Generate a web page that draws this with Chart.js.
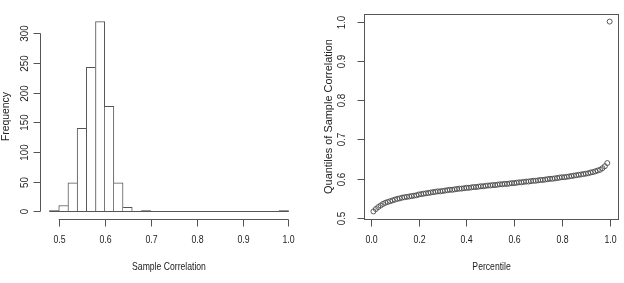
<!DOCTYPE html>
<html><head><meta charset="utf-8">
<script src="https://cdn.jsdelivr.net/npm/chart.js@4"></script>
<style>
html,body{margin:0;padding:0;background:#fff;}
#wrap{position:relative;width:624px;height:283px;overflow:hidden;background:#fff;}
.pane{position:absolute;top:0;width:312px;height:283px;}
</style></head><body>
<div id="wrap">
<div class="pane" style="left:0"><canvas id="hist" width="312" height="283"></canvas></div>
<div class="pane" style="left:312px"><canvas id="qq" width="312" height="283"></canvas></div>
</div>
<script>
// ---- Histogram data ----
const histBinCenters = [0.49,0.51,0.53,0.55,0.57,0.59,0.61,0.63,0.65,0.67,0.69,0.71,0.73,0.75,0.77,0.79,0.81,0.83,0.85,0.87,0.89,0.91,0.93,0.95,0.97,0.99];
const histCounts = [1,10,48,140,243,320,177,48,7,0,1,0,0,0,0,0,0,0,0,0,0,0,0,0,0,1];
const histXTicks = [0.5,0.6,0.7,0.8,0.9,1.0];
const histXTickLabels = ["0.5","0.6","0.7","0.8","0.9","1.0"];
const histYTicks = [0,50,100,150,200,250,300];
const histYTickLabels = ["0","50","100","150","200","250","300"];
const histXTitle = "Sample Correlation";
const histYTitle = "Frequency";

// ---- Quantile plot data ----
const percentiles = [0.01,0.02,0.03,0.04,0.05,0.06,0.07,0.08,0.09,0.10,
0.11,0.12,0.13,0.14,0.15,0.16,0.17,0.18,0.19,0.20,
0.21,0.22,0.23,0.24,0.25,0.26,0.27,0.28,0.29,0.30,
0.31,0.32,0.33,0.34,0.35,0.36,0.37,0.38,0.39,0.40,
0.41,0.42,0.43,0.44,0.45,0.46,0.47,0.48,0.49,0.50,
0.51,0.52,0.53,0.54,0.55,0.56,0.57,0.58,0.59,0.60,
0.61,0.62,0.63,0.64,0.65,0.66,0.67,0.68,0.69,0.70,
0.71,0.72,0.73,0.74,0.75,0.76,0.77,0.78,0.79,0.80,
0.81,0.82,0.83,0.84,0.85,0.86,0.87,0.88,0.89,0.90,
0.91,0.92,0.93,0.94,0.95,0.96,0.97,0.98,0.99,1.00];
const quantiles = [0.517,0.523,0.528,0.532,0.536,0.539,0.541,0.543,0.545,0.547,
0.549,0.550,0.552,0.553,0.554,0.555,0.556,0.557,0.558,0.560,
0.561,0.562,0.563,0.564,0.565,0.566,0.567,0.568,0.568,0.569,
0.570,0.571,0.572,0.572,0.573,0.574,0.575,0.575,0.576,0.577,
0.577,0.578,0.579,0.579,0.580,0.581,0.581,0.582,0.583,0.583,
0.584,0.584,0.585,0.586,0.586,0.587,0.587,0.588,0.589,0.589,
0.590,0.591,0.591,0.592,0.593,0.593,0.594,0.595,0.595,0.596,
0.597,0.597,0.598,0.599,0.600,0.600,0.601,0.602,0.603,0.604,
0.604,0.605,0.606,0.607,0.608,0.609,0.610,0.611,0.612,0.613,
0.614,0.616,0.617,0.619,0.621,0.623,0.627,0.632,0.640,1.000];
const qqXTicks = [0,0.2,0.4,0.6,0.8,1.0];
const qqXTickLabels = ["0.0","0.2","0.4","0.6","0.8","1.0"];
const qqYTicks = [0.5,0.6,0.7,0.8,0.9,1.0];
const qqYTickLabels = ["0.5","0.6","0.7","0.8","0.9","1.0"];
const qqXTitle = "Percentile";
const qqYTitle = "Quantiles of Sample Correlation";

// ---- styling ----
const AXIS = '#555555';
const TEXT = '#222222';
const FONT = '"Liberation Sans", Arial, Helvetica, sans-serif';

function txt(ctx, s, x, y, rot, size, sx) {
  ctx.save();
  ctx.translate(x, y);
  ctx.rotate(rot);
  ctx.scale(sx, 1);
  ctx.font = size + 'px ' + FONT;
  ctx.fillStyle = TEXT;
  ctx.textAlign = 'center';
  ctx.textBaseline = 'middle';
  ctx.fillText(s, 0, 0);
  ctx.restore();
}
function seg(ctx, x1, y1, x2, y2) {
  ctx.beginPath(); ctx.moveTo(x1, y1); ctx.lineTo(x2, y2); ctx.stroke();
}

// R-like range padding (4%)
function rng(min, max) { const d = (max - min) * 0.04; return [min - d, max + d]; }

// ---- Histogram ----
const halfW = (histBinCenters[1] - histBinCenters[0]) / 2;
const histLo = histBinCenters[0] - halfW;
const histHi = histBinCenters[histBinCenters.length - 1] + halfW;
const hx = rng(histLo, histHi);
const hy = rng(0, Math.max(...histCounts));

const histAxes = {
  id: 'histAxes',
  afterDraw(chart) {
    const ctx = chart.ctx, xs = chart.scales.x, ys = chart.scales.y, a = chart.chartArea;
    ctx.save();
    ctx.strokeStyle = AXIS; ctx.lineWidth = 1;
    const y0 = Math.round(ys.getPixelForValue(0)) + 0.5;
    seg(ctx, xs.getPixelForValue(histLo), y0, xs.getPixelForValue(histHi), y0);
    const xl = Math.round(a.left) + 0.5;
    seg(ctx, xl, ys.getPixelForValue(histYTicks[0]), xl, ys.getPixelForValue(histYTicks[histYTicks.length - 1]));
    histYTicks.forEach((v, i) => {
      const py = Math.round(ys.getPixelForValue(v)) + 0.5;
      seg(ctx, xl - 7, py, xl, py);
      txt(ctx, histYTickLabels[i], 25, py, -Math.PI / 2, 11.5, 0.86);
    });
    const yb = Math.round(a.bottom) + 0.5;
    seg(ctx, xs.getPixelForValue(histXTicks[0]), yb, xs.getPixelForValue(histXTicks[histXTicks.length - 1]), yb);
    histXTicks.forEach((v, i) => {
      const px = Math.round(xs.getPixelForValue(v)) + 0.5;
      seg(ctx, px, yb, px, yb + 7);
      txt(ctx, histXTickLabels[i], px, 240, 0, 11.5, 0.76);
    });
    txt(ctx, histXTitle, (a.left + a.right) / 2, 267, 0, 11.5, 0.75);
    txt(ctx, histYTitle, 5.5, (a.top + a.bottom) / 2, -Math.PI / 2, 11.5, 0.9);
    ctx.restore();
  }
};

new Chart(document.getElementById('hist'), {
  type: 'bar',
  data: {
    datasets: [{
      data: histBinCenters.map((c, i) => ({ x: c, y: histCounts[i] })),
      backgroundColor: c => histCounts[c.dataIndex] <= 1 ? '#333333' : '#ffffff',
      borderColor: AXIS,
      borderSkipped: false,
      borderWidth: c => {
        const i = c.dataIndex, v = histCounts[i];
        const p = i > 0 ? histCounts[i - 1] : -1;
        const n = i < histCounts.length - 1 ? histCounts[i + 1] : -1;
        if (v <= 1) return 0;
        return { top: 1, bottom: 0, left: p <= v ? 1 : 0, right: n < v ? 1 : 0 };
      },
      barPercentage: 1,
      categoryPercentage: 1
    }]
  },
  options: {
    responsive: false, animation: false, devicePixelRatio: 1,
    layout: { padding: { left: 40, right: 14, top: 14, bottom: 64 } },
    plugins: { legend: { display: false }, tooltip: { enabled: false } },
    scales: {
      x: { type: 'linear', min: hx[0], max: hx[1], display: false, offset: false },
      y: { type: 'linear', min: hy[0], max: hy[1], display: false }
    }
  },
  plugins: [histAxes]
});

// ---- Quantile plot ----
const qx = rng(Math.min(...percentiles), Math.max(...percentiles));
const qy = rng(Math.min(...quantiles), Math.max(...quantiles));

const qqAxes = {
  id: 'qqAxes',
  afterDraw(chart) {
    const ctx = chart.ctx, xs = chart.scales.x, ys = chart.scales.y, a = chart.chartArea;
    ctx.save();
    ctx.strokeStyle = AXIS; ctx.lineWidth = 1;
    const l = Math.round(a.left) + 0.5, r = Math.round(a.right) - 0.5;
    const t = Math.round(a.top) + 0.5, b = Math.round(a.bottom) + 0.5;
    ctx.strokeRect(l, t, r - l, b - t);
    qqYTicks.forEach((v, i) => {
      const py = Math.round(ys.getPixelForValue(v)) + 0.5;
      seg(ctx, l - 7, py, l, py);
      txt(ctx, qqYTickLabels[i], 29.7, py, -Math.PI / 2, 11.5, 0.86);
    });
    qqXTicks.forEach((v, i) => {
      const px = Math.round(xs.getPixelForValue(v)) + 0.5;
      seg(ctx, px, b, px, b + 7);
      txt(ctx, qqXTickLabels[i], px, 240, 0, 11.5, 0.76);
    });
    txt(ctx, qqXTitle, (a.left + a.right) / 2, 267, 0, 11.5, 0.75);
    txt(ctx, qqYTitle, 17, (a.top + a.bottom) / 2, -Math.PI / 2, 11.5, 0.95);
    ctx.restore();
  }
};

new Chart(document.getElementById('qq'), {
  type: 'scatter',
  data: {
    datasets: [{
      data: percentiles.map((p, i) => ({ x: p, y: quantiles[i] })),
      pointStyle: 'circle',
      pointRadius: 2.5,
      pointBorderWidth: 0.9,
      pointBackgroundColor: 'rgba(255,255,255,0)',
      pointBorderColor: '#4a4a4a'
    }]
  },
  options: {
    responsive: false, animation: false, devicePixelRatio: 1,
    layout: { padding: { left: 52, right: 2, top: 14, bottom: 64 } },
    plugins: { legend: { display: false }, tooltip: { enabled: false } },
    scales: {
      x: { type: 'linear', min: qx[0], max: qx[1], display: false },
      y: { type: 'linear', min: qy[0], max: qy[1], display: false }
    }
  },
  plugins: [qqAxes]
});
</script>
</body></html>
